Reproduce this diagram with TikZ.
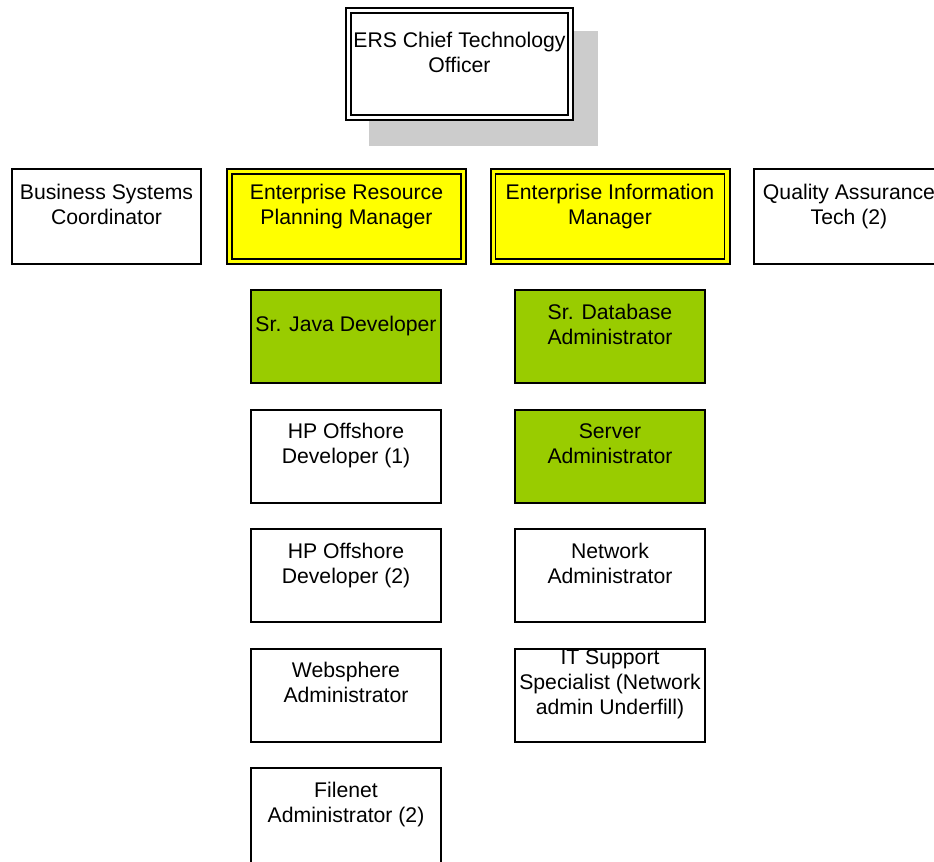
\documentclass[tikz,border=0pt]{standalone}
\usepackage{fontspec}
\setmainfont{Liberation Sans}
\usetikzlibrary{calc}
\definecolor{boxyellow}{HTML}{FFFF00}
\definecolor{boxgreen}{HTML}{99CC00}
\definecolor{shadowgray}{HTML}{CCCCCC}
\begin{document}
\begin{tikzpicture}[x=0.75pt,y=-0.75pt,
  box/.style={draw=black, line width=1.5pt, fill=white, inner sep=0pt, outer sep=0pt,
    minimum width=142.5pt, minimum height=69.75pt},
  topbox/.style={box, minimum width=141.75pt, minimum height=71.25pt},
  mgrbox/.style={box, fill=boxyellow, minimum width=179.25pt, minimum height=71.25pt},
  ctobox/.style={box, minimum width=170.25pt, minimum height=84pt},
  shadowbox/.style={fill=shadowgray, draw=none, inner sep=0pt, outer sep=0pt,
    minimum width=171.75pt, minimum height=86.25pt},
  innerline/.style={draw=black, line width=1.1pt},
  txt/.style={inner sep=0pt, anchor=north, align=center,
    font=\fontsize{15.9pt}{18.75pt}\selectfont,
    execute at begin node={\rule{0pt}{12pt}}}
]
\useasboundingbox (0,0) rectangle (934,861);
\clip (0,0) rectangle (934,861);

% CTO with shadow
\node[shadowbox] (ctoshadow) at (483.5,88.5) {};
\node[ctobox] (cto) at (459.5,64) {};
\draw[innerline] ($(cto.north west)+(5,5)$) rectangle ($(cto.south east)+(-5,-5)$);
\node[txt] (tcto) at ($(cto.north)+(0,23.5)$) {ERS Chief Technology\\Officer};

% top row
\node[topbox] (bsc) at (106.5,216.5) {};
\node[txt] (tbsc) at ($(bsc.north)+(0,14.5)$) {Business Systems\\Coordinator};

\node[mgrbox] (erp) at (346.5,216.5) {};
\draw[innerline] ($(erp.north west)+(5,5)$) rectangle ($(erp.south east)+(-5,-5)$);
\node[txt] (terp) at ($(erp.north)+(0,14.5)$) {Enterprise Resource\\Planning Manager};

\node[mgrbox] (eim) at (610,216.5) {};
\draw[innerline] ($(eim.north west)+(5,5)$) rectangle ($(eim.south east)+(-5,-5)$);
\node[txt] (teim) at ($(eim.north)+(0,14.5)$) {Enterprise Information\\Manager};

\node[topbox, minimum width=142.5pt] (qa) at (849,216.5) {};
\node[txt] (tqa) at ($(qa.north)+(0,14.5)$) {Quality Assurance\\Tech (2)};

% left column
\node[box, fill=boxgreen] (java) at (346,336.5) {};
\node[txt] (tjava) at ($(java.north)+(0,25.5)$) {Sr. Java Developer};

\node[box] (hpa) at (346,456) {};
\node[txt] (thpa) at ($(hpa.north)+(0,13.5)$) {HP Offshore\\Developer (1)};

\node[box] (hpb) at (346,575.5) {};
\node[txt] (thpb) at ($(hpb.north)+(0,13.5)$) {HP Offshore\\Developer (2)};

\node[box] (ws) at (346,695) {};
\node[txt] (tws) at ($(ws.north)+(0,13.5)$) {Websphere\\Administrator};

\node[box, minimum height=75pt] (fn) at (346,818) {};
\node[txt] (tfn) at ($(fn.north)+(0,13.5)$) {Filenet\\Administrator (2)};

% right column
\node[box, fill=boxgreen] (dba) at (610,336.5) {};
\node[txt] (tdba) at ($(dba.north)+(0,13.5)$) {Sr. Database\\Administrator};

\node[box, fill=boxgreen] (sa) at (610,456) {};
\node[txt] (tsa) at ($(sa.north)+(0,13.5)$) {Server\\Administrator};

\node[box] (na) at (610,575.5) {};
\node[txt] (tna) at ($(na.north)+(0,13.5)$) {Network\\Administrator};

\node[box] (its) at (610,695) {};
\node[txt] (tits) at ($(its.north)+(0,0.5)$) {IT Support\\Specialist (Network\\admin Underfill)};
\end{tikzpicture}
\end{document}
